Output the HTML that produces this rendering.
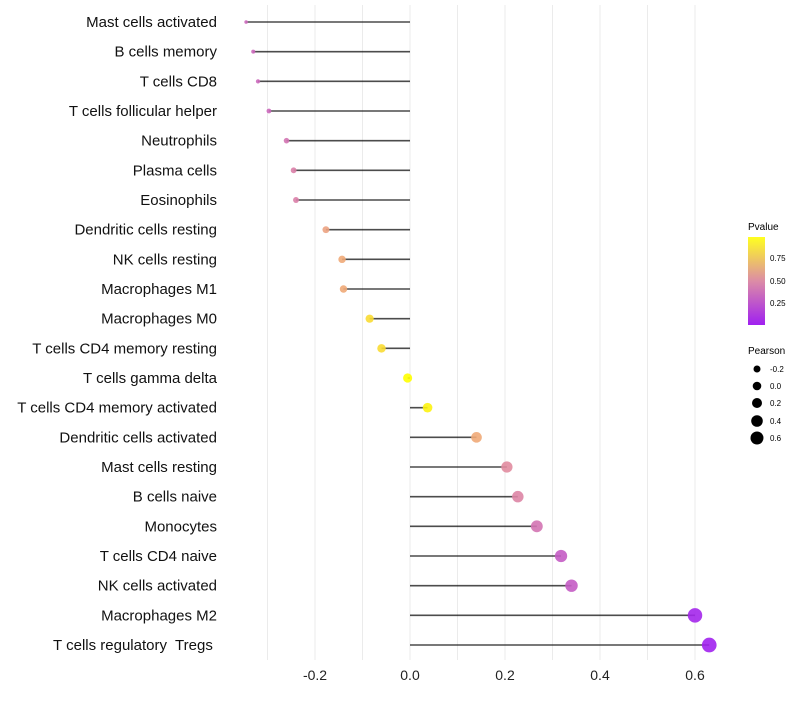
<!DOCTYPE html>
<html><head><meta charset="utf-8"><style>
body{margin:0;background:#fff;font-family:"Liberation Sans",sans-serif}
text{white-space:pre}
</style></head><body>
<svg id="c" width="800" height="700" xmlns="http://www.w3.org/2000/svg">
<defs><linearGradient id="pg" x1="0" y1="1" x2="0" y2="0">
<stop offset="0" stop-color="#a020f0"/><stop offset="0.5" stop-color="#dc8ca6"/><stop offset="1" stop-color="#ffff20"/></linearGradient></defs>
<g id="grid"></g><g id="marks"></g><g id="labels"></g>
<g>
<text x="748" y="230" font-size="10">Pvalue</text>
<rect x="748" y="237" width="17" height="88" fill="url(#pg)"/>
<text x="770" y="261" font-size="8">0.75</text>
<text x="770" y="284" font-size="8">0.50</text>
<text x="770" y="306" font-size="8">0.25</text>
</g>
<g>
<text x="748" y="354" font-size="10">Pearson</text>
<circle cx="757" cy="369" r="3.5"/><text x="770" y="372" font-size="8">-0.2</text>
<circle cx="757" cy="386" r="4.3"/><text x="770" y="389" font-size="8">0.0</text>
<circle cx="757" cy="403" r="5"/><text x="770" y="406" font-size="8">0.2</text>
<circle cx="757" cy="421" r="5.8"/><text x="770" y="424" font-size="8">0.4</text>
<circle cx="757" cy="438" r="6.5"/><text x="770" y="441" font-size="8">0.6</text>
</g>
</svg>
<script>
const categories=["Mast cells activated","B cells memory","T cells CD8","T cells follicular helper","Neutrophils","Plasma cells","Eosinophils","Dendritic cells resting","NK cells resting","Macrophages M1","Macrophages M0","T cells CD4 memory resting","T cells gamma delta","T cells CD4 memory activated","Dendritic cells activated","Mast cells resting","B cells naive","Monocytes","T cells CD4 naive","NK cells activated","Macrophages M2","T cells regulatory  Tregs "];
const pearson=[-0.345,-0.33,-0.32,-0.297,-0.26,-0.245,-0.24,-0.177,-0.143,-0.14,-0.085,-0.06,-0.005,0.037,0.14,0.204,0.227,0.267,0.318,0.34,0.6,0.63];
const pvalue=[0.3,0.3,0.3,0.3,0.35,0.4,0.4,0.6,0.65,0.65,0.85,0.85,1.0,0.95,0.65,0.45,0.42,0.35,0.25,0.25,0.03,0.01];
const ticks=[-0.2,0,0.2,0.4,0.6];
const tickLabels=["-0.2","0.0","0.2","0.4","0.6"];
const NS="http://www.w3.org/2000/svg";
const X=v=>410+v*475;
const Y=i=>22+i*29.667;
const R=v=>Math.sqrt(3+52*(v+0.35));
function lerp(a,b,t){return a.map((x,k)=>Math.round(x+(b[k]-x)*t));}
function col(p){const s=[[160,32,240],[225,140,160],[240,170,120],[255,255,0]];
if(p<0.45)return `rgb(${lerp(s[0],s[1],p/0.45).join(',')})`;
if(p<0.65)return `rgb(${lerp(s[1],s[2],(p-0.45)/0.2).join(',')})`;
return `rgb(${lerp(s[2],s[3],(p-0.65)/0.35).join(',')})`;}
function mk(t,a,parent){const e=document.createElementNS(NS,t);for(const k in a)e.setAttribute(k,a[k]);document.getElementById(parent).appendChild(e);return e;}
for(let v=-0.3;v<=0.651;v+=0.1){const g=mk('line',{x1:X(v),x2:X(v),y1:5,y2:660,stroke:'#ebebeb','stroke-width':1},'grid');

}
ticks.forEach((t,i)=>{const e=mk('text',{x:X(t),y:680,'font-size':14,'text-anchor':'middle',fill:'#222'},'labels');e.textContent=tickLabels[i];

});
categories.forEach((c,i)=>{
const t=mk('text',{x:217,y:Y(i)+5,'font-size':15,'text-anchor':'end',fill:'#111'},'labels');t.textContent=c;


const l=mk('line',{x1:X(0),x2:X(pearson[i]),y1:Y(i),y2:Y(i),stroke:'#000','stroke-width':1.6,'stroke-opacity':0.7},'marks');


const d=mk('circle',{cx:X(pearson[i]),cy:Y(i),r:R(pearson[i]),fill:col(pvalue[i]),'fill-opacity':0.9},'marks');


});
</script>
</body></html>
